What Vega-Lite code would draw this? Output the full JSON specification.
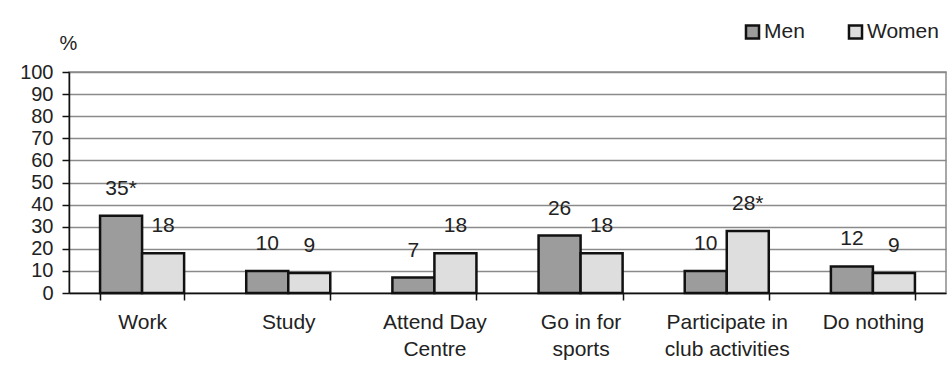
{
  "$schema": "https://vega.github.io/schema/vega-lite/v6.json",
  "autosize": "none",
  "width": 877,
  "height": 221,
  "padding": {"left": 69, "top": 72, "right": 6, "bottom": 90},
  "background": "white",
  "config": {
    "font": "Liberation Sans",
    "view": {"stroke": "#8a8a8a", "strokeWidth": 1.5}
  },
  "data": {
    "values": [
      {"activity": "Work", "sex": "Men", "value": 35, "label": "35*"},
      {"activity": "Work", "sex": "Women", "value": 18, "label": "18"},
      {"activity": "Study", "sex": "Men", "value": 10, "label": "10"},
      {"activity": "Study", "sex": "Women", "value": 9, "label": "9"},
      {"activity": "Attend Day Centre", "sex": "Men", "value": 7, "label": "7"},
      {"activity": "Attend Day Centre", "sex": "Women", "value": 18, "label": "18"},
      {"activity": "Go in for sports", "sex": "Men", "value": 26, "label": "26"},
      {"activity": "Go in for sports", "sex": "Women", "value": 18, "label": "18"},
      {"activity": "Participate in club activities", "sex": "Men", "value": 10, "label": "10"},
      {"activity": "Participate in club activities", "sex": "Women", "value": 28, "label": "28*"},
      {"activity": "Do nothing", "sex": "Men", "value": 12, "label": "12"},
      {"activity": "Do nothing", "sex": "Women", "value": 9, "label": "9"}
    ]
  },
  "encoding": {
    "x": {
      "field": "activity",
      "type": "nominal",
      "sort": null,
      "scale": {"paddingInner": 0.425, "paddingOuter": 0.2125},
      "axis": {
        "title": null,
        "labelAngle": 0,
        "labelFontSize": 21,
        "labelColor": "#222",
        "labelPadding": 11,
        "labelLineHeight": 27,
        "labelBaseline": "top",
        "labelExpr": "datum.value == 'Attend Day Centre' ? ['Attend Day', 'Centre'] : datum.value == 'Go in for sports' ? ['Go in for', 'sports'] : datum.value == 'Participate in club activities' ? ['Participate in', 'club activities'] : datum.value",
        "tickBand": "extent",
        "tickSize": 7,
        "tickColor": "#111",
        "tickWidth": 1.5,
        "domainColor": "#111",
        "domainWidth": 1.5,
        "grid": false
      }
    },
    "xOffset": {"field": "sex", "type": "nominal", "sort": ["Men", "Women"]},
    "y": {
      "field": "value",
      "type": "quantitative",
      "scale": {"domain": [0, 100], "nice": false},
      "axis": {
        "values": [0, 10, 20, 30, 40, 50, 60, 70, 80, 90, 100],
        "title": "%",
        "titleAngle": 0,
        "titleAlign": "center",
        "titleBaseline": "middle",
        "titleX": -1,
        "titleY": -29,
        "titleFontSize": 20,
        "titleFontWeight": "normal",
        "titleColor": "#222",
        "labelFontSize": 20,
        "labelColor": "#222",
        "labelPadding": 9,
        "tickSize": 7,
        "tickColor": "#111",
        "tickWidth": 1.5,
        "domainColor": "#111",
        "domainWidth": 1.5,
        "grid": true,
        "gridColor": "#8a8a8a",
        "gridWidth": 1.5
      }
    }
  },
  "layer": [
    {
      "mark": {"type": "bar", "stroke": "#111", "strokeWidth": 2.5},
      "encoding": {
        "color": {
          "field": "sex",
          "type": "nominal",
          "sort": ["Men", "Women"],
          "scale": {"domain": ["Men", "Women"], "range": ["#9c9c9c", "#dedede"]},
          "legend": {
            "title": null,
            "orient": "none",
            "direction": "horizontal",
            "legendX": 673,
            "legendY": -51,
            "symbolType": "square",
            "symbolSize": 170,
            "symbolStrokeColor": "#111",
            "symbolStrokeWidth": 2.5,
            "symbolOpacity": 1,
            "labelFontSize": 21,
            "labelColor": "#222",
            "labelOffset": 1,
            "columnPadding": 38,
            "padding": 0
          }
        }
      }
    },
    {
      "mark": {"type": "text", "fontSize": 21, "color": "#222", "baseline": "middle", "dy": -27},
      "encoding": {"text": {"field": "label"}}
    }
  ]
}
